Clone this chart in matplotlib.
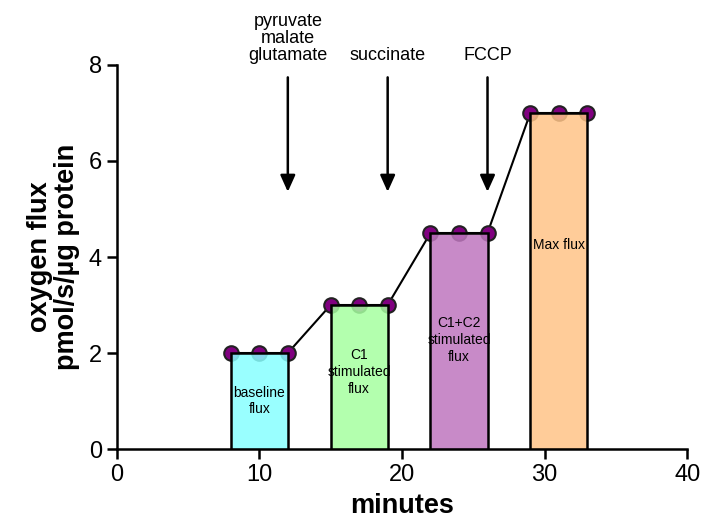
import matplotlib
matplotlib.use("Agg")
import matplotlib.pyplot as plt

plt.rcParams['font.family'] = ['Liberation Sans', 'DejaVu Sans']

# bars: start, end, height, colour, label
bar_start = [8, 15, 22, 29]
bar_end = [12, 19, 26, 33]
bar_height = [2, 3, 4.5, 7]
bar_colors = ['#87ffff', '#a6ffa0', '#bf76bf', '#ffc387']
bar_labels = ['baseline\nflux', 'C1\nstimulated\nflux', 'C1+C2\nstimulated\nflux', 'Max flux']
label_y = [1.0, 1.6, 2.27, 4.25]

# measured points
pt_x = [8, 10, 12, 15, 17, 19, 22, 24, 26, 29, 31, 33]
pt_y = [2, 2, 2, 3, 3, 3, 4.5, 4.5, 4.5, 7, 7, 7]

# additions
add_x = [12, 19, 26]
add_text = ['pyruvate\nmalate\nglutamate', 'succinate', 'FCCP']

fig = plt.figure(figsize=(7.07, 5.31), dpi=100)
ax = fig.add_axes([0.165, 0.1544, 0.807, 0.7232])

ax.plot(pt_x, pt_y, color='black', lw=1.5, zorder=2)
ax.scatter(pt_x, pt_y, s=110, color='#800080', edgecolor='#222222', lw=1.5, zorder=3)

for x0, x1, h, c, lab, ly in zip(bar_start, bar_end, bar_height, bar_colors, bar_labels, label_y):
    ax.bar(x0, h, width=x1 - x0, align='edge', facecolor=matplotlib.colors.to_rgba(c, 0.85),
           edgecolor='none', zorder=4)
    ax.bar(x0, h, width=x1 - x0, align='edge', facecolor='none',
           edgecolor='black', lw=1.8, zorder=5)
    ax.text((x0 + x1) / 2, ly, lab, ha='center', va='center', fontsize=10,
            linespacing=1.25, zorder=6)

for x, t in zip(add_x, add_text):
    ax.annotate('', xy=(x, 5.3), xytext=(x, 7.8),
                arrowprops=dict(arrowstyle='-|>,head_length=1.0,head_width=0.45',
                                color='black', lw=1.8), annotation_clip=False)
    ax.text(x, 8.02, t, ha='center', va='bottom', fontsize=13, linespacing=1.0,
            clip_on=False)

ax.set_xlim(0, 40)
ax.set_ylim(0, 8)
ax.set_xticks([0, 10, 20, 30, 40])
ax.set_yticks([0, 2, 4, 6, 8])
ax.spines['top'].set_visible(False)
ax.spines['right'].set_visible(False)
for s in ['left', 'bottom']:
    ax.spines[s].set_linewidth(1.8)
ax.tick_params(width=1.8, length=7, labelsize=17)
ax.set_xlabel('minutes', fontsize=19.5, fontweight='bold', labelpad=5)
ax.set_ylabel('oxygen flux\npmol/s/µg protein', fontsize=19.5, fontweight='bold',
              labelpad=6, linespacing=1.05)

fig.savefig('out.png', dpi=100)
